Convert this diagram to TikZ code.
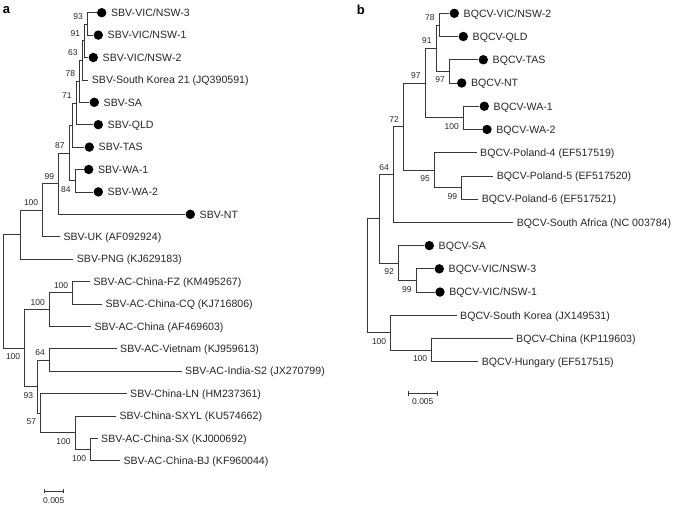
\documentclass[tikz,border=0pt]{standalone}
\usepackage{fontspec}
\setmainfont{Liberation Sans}
\usetikzlibrary{positioning,arrows.meta,calc}
\begin{document}
\begin{tikzpicture}[x=1pt,y=-1pt,
  br/.style={draw=black!78, line width=0.8pt},
  tipdot/.style={circle, fill=black, inner sep=0pt, minimum size=9.4pt},
  dotlabel/.style={anchor=west, inner sep=0pt, text height=7.6pt, text depth=0pt, font=\fontsize{10.6}{12}\selectfont, text=black!85},
  leaflabel/.style={anchor=west, inner ysep=0pt, inner xsep=3.3pt, text height=7.6pt, text depth=0pt, font=\fontsize{10.6}{12}\selectfont, text=black!85},
  bsbase/.style={anchor=east, inner sep=0pt, text height=6.1pt, text depth=0pt, font=\fontsize{8.5}{10}\selectfont, text=black!85},
  scalebar/.style={draw=black!78, line width=0.8pt, arrows={Bar[width=4.5pt,line width=0.8pt]-Bar[width=4.5pt,line width=0.8pt]}},
  scaletext/.style={inner sep=0pt, text height=6.1pt, text depth=0pt, font=\fontsize{8.5}{10}\selectfont, text=black!85},
  panel/.style={anchor=base west, inner sep=0pt, font=\fontsize{13}{15}\selectfont\bfseries}
]
\useasboundingbox (0,0) rectangle (675,506);

% ---------------- panel a ----------------
\node[panel] (pa) at (2.7,13.3) {a};

% dot leaves
\node[tipdot] (a-vic3) at (101.7,12.7) {};
\node[tipdot] (a-vic1) at (98.3,35.1) {};
\node[tipdot] (a-vic2) at (93.3,57.5) {};
\node[tipdot] (a-sa) at (94.3,102.3) {};
\node[tipdot] (a-qld) at (98.3,124.7) {};
\node[tipdot] (a-tas) at (89.3,147.1) {};
\node[tipdot] (a-wa1) at (88.7,169.5) {};
\node[tipdot] (a-wa2) at (98.3,191.9) {};
\node[tipdot] (a-nt) at (190.3,214.3) {};
\node[dotlabel, right=4.3pt of a-vic3] (ta-vic3) {SBV-VIC/NSW-3};
\node[dotlabel, right=4.3pt of a-vic1] (ta-vic1) {SBV-VIC/NSW-1};
\node[dotlabel, right=4.3pt of a-vic2] (ta-vic2) {SBV-VIC/NSW-2};
\node[dotlabel, right=4.3pt of a-sa] (ta-sa) {SBV-SA};
\node[dotlabel, right=4.3pt of a-qld] (ta-qld) {SBV-QLD};
\node[dotlabel, right=4.3pt of a-tas] (ta-tas) {SBV-TAS};
\node[dotlabel, right=4.3pt of a-wa1] (ta-wa1) {SBV-WA-1};
\node[dotlabel, right=4.3pt of a-wa2] (ta-wa2) {SBV-WA-2};
\node[dotlabel, right=4.3pt of a-nt] (ta-nt) {SBV-NT};

% text leaves
\node[leaflabel] (a-sk) at (88.4,79.9) {SBV-South Korea 21 (JQ390591)};
\node[leaflabel] (a-uk) at (60,236.7) {SBV-UK (AF092924)};
\node[leaflabel] (a-png) at (73.4,259.1) {SBV-PNG (KJ629183)};
\node[leaflabel] (a-fz) at (90,281.5) {SBV-AC-China-FZ (KM495267)};
\node[leaflabel] (a-cq) at (102,303.9) {SBV-AC-China-CQ (KJ716806)};
\node[leaflabel] (a-acc) at (91,326.3) {SBV-AC-China (AF469603)};
\node[leaflabel] (a-vn) at (116.7,348.7) {SBV-AC-Vietnam (KJ959613)};
\node[leaflabel] (a-in) at (181.7,371.1) {SBV-AC-India-S2 (JX270799)};
\node[leaflabel] (a-ln) at (126.7,393.5) {SBV-China-LN (HM237361)};
\node[leaflabel] (a-sxyl) at (116,415.9) {SBV-China-SXYL (KU574662)};
\node[leaflabel] (a-sx) at (97.7,438.3) {SBV-AC-China-SX (KJ000692)};
\node[leaflabel] (a-bj) at (120,460.7) {SBV-AC-China-BJ (KF960044)};

% internal nodes
\coordinate (n93) at (87.3,23.9);
\coordinate (n91) at (84.7,40.7);
\coordinate (n63) at (82,60.3);
\coordinate (n78) at (79.5,81.3);
\coordinate (n71) at (76,103.0);
\coordinate (nA) at (72,125.05);
\coordinate (n84) at (75,180.7);
\coordinate (n87) at (69,152.9);
\coordinate (n99) at (58.7,183.6);
\coordinate (n100a) at (42.7,210.15);
\coordinate (nD) at (20,234.6);
\coordinate (n100c) at (72.7,292.7);
\coordinate (n100b) at (49.3,309.5);
\coordinate (n64) at (49.3,359.9);
\coordinate (n100e) at (90.7,449.5);
\coordinate (n100d) at (75,432.7);
\coordinate (n57) at (40.7,413.1);
\coordinate (n93b) at (37.7,386.5);
\coordinate (n100f) at (24.7,348);
\coordinate (rootL) at (3.3,291.3);

% branches
\draw[br] (n93) |- (a-vic3);
\draw[br] (n93) |- (a-vic1);
\draw[br] (n91) |- (n93);
\draw[br] (n91) |- (a-vic2);
\draw[br] (n63) |- (n91);
\draw[br] (n63) |- (a-sk);
\draw[br] (n78) |- (n63);
\draw[br] (n78) |- (a-sa);
\draw[br] (n71) |- (n78);
\draw[br] (n71) |- (a-qld);
\draw[br] (nA) |- (n71);
\draw[br] (nA) |- (a-tas);
\draw[br] (n84) |- (a-wa1);
\draw[br] (n84) |- (a-wa2);
\draw[br] (n87) |- (nA);
\draw[br] (n87) |- (n84);
\draw[br] (n99) |- (n87);
\draw[br] (n99) |- (a-nt);
\draw[br] (n100a) |- (n99);
\draw[br] (n100a) |- (a-uk);
\draw[br] (nD) |- (n100a);
\draw[br] (nD) |- (a-png);
\draw[br] (n100c) |- (a-fz);
\draw[br] (n100c) |- (a-cq);
\draw[br] (n100b) |- (n100c);
\draw[br] (n100b) |- (a-acc);
\draw[br] (n64) |- (a-vn);
\draw[br] (n64) |- (a-in);
\draw[br] (n100e) |- (a-sx);
\draw[br] (n100e) |- (a-bj);
\draw[br] (n100d) |- (a-sxyl);
\draw[br] (n100d) |- (n100e);
\draw[br] (n57) |- (a-ln);
\draw[br] (n57) |- (n100d);
\draw[br] (n93b) |- (n64);
\draw[br] (n93b) |- (n57);
\draw[br] (n100f) |- (n100b);
\draw[br] (n100f) |- (n93b);
\draw[br] (rootL) |- (nD);
\draw[br] (rootL) |- (n100f);

% bootstrap values
\node[bsbase] (b93) at ($(n93)+(-4.3,-7.4)$) {93};
\node[bsbase] (b91) at ($(n91)+(-4.3,-7.4)$) {91};
\node[bsbase] (b63) at ($(n63)+(-4.3,-7.4)$) {63};
\node[bsbase] (b78) at ($(n78)+(-4.3,-7.4)$) {78};
\node[bsbase] (b71) at ($(n71)+(-4.3,-7.4)$) {71};
\node[bsbase] (b87) at ($(n87)+(-4.3,-7.4)$) {87};
\node[bsbase] (b99) at ($(n99)+(-4.3,-7.4)$) {99};
\node[bsbase] (b84) at ($(n84)+(-4.3,8.5)$) {84};
\node[bsbase] (b100a) at ($(n100a)+(-4.3,-7.4)$) {100};
\node[bsbase] (b100c) at ($(n100c)+(-4.3,-7.4)$) {100};
\node[bsbase] (b100b) at ($(n100b)+(-4.3,-7.4)$) {100};
\node[bsbase] (b64) at ($(n64)+(-4.3,-7.4)$) {64};
\node[bsbase] (b100e) at ($(n100e)+(-4.3,8.5)$) {100};
\node[bsbase] (b100d) at ($(n100d)+(-4.3,8.5)$) {100};
\node[bsbase] (b57) at ($(n57)+(-4.3,8.5)$) {57};
\node[bsbase] (b93b) at ($(n93b)+(-4.3,8.5)$) {93};
\node[bsbase] (b100f) at ($(n100f)+(-4.3,8.5)$) {100};

% scale bar a
\coordinate (sa1) at (44.3,491);
\coordinate (sa2) at (63.3,491);
\draw[scalebar] (sa1) -- (sa2);
\node[scaletext] (sat) at (53.8,500.3) {0.005};

% ---------------- panel b ----------------
\node[panel] (pb) at (356.7,14) {b};

\node[tipdot] (b-vic2) at (454.3,13.3) {};
\node[tipdot] (b-qld) at (463.3,36.53) {};
\node[tipdot] (b-tas) at (483.3,59.76) {};
\node[tipdot] (b-nt) at (461.7,82.99) {};
\node[tipdot] (b-wa1) at (484.3,106.22) {};
\node[tipdot] (b-wa2) at (487,129.45) {};
\node[tipdot] (b-sa) at (429.3,245.6) {};
\node[tipdot] (b-vic3) at (439.3,268.83) {};
\node[tipdot] (b-vic1) at (440,292.06) {};
\node[dotlabel, right=4.3pt of b-vic2] (tb-vic2) {BQCV-VIC/NSW-2};
\node[dotlabel, right=4.3pt of b-qld] (tb-qld) {BQCV-QLD};
\node[dotlabel, right=4.3pt of b-tas] (tb-tas) {BQCV-TAS};
\node[dotlabel, right=4.3pt of b-nt] (tb-nt) {BQCV-NT};
\node[dotlabel, right=4.3pt of b-wa1] (tb-wa1) {BQCV-WA-1};
\node[dotlabel, right=4.3pt of b-wa2] (tb-wa2) {BQCV-WA-2};
\node[dotlabel, right=4.3pt of b-sa] (tb-sa) {BQCV-SA};
\node[dotlabel, right=4.3pt of b-vic3] (tb-vic3) {BQCV-VIC/NSW-3};
\node[dotlabel, right=4.3pt of b-vic1] (tb-vic1) {BQCV-VIC/NSW-1};

\node[leaflabel] (b-pl4) at (476.7,152.68) {BQCV-Poland-4 (EF517519)};
\node[leaflabel] (b-pl5) at (493.3,175.91) {BQCV-Poland-5 (EF517520)};
\node[leaflabel] (b-pl6) at (478.3,199.14) {BQCV-Poland-6 (EF517521)};
\node[leaflabel] (b-saf) at (513.3,222.37) {BQCV-South Africa (NC 003784)};
\node[leaflabel] (b-sk) at (456.7,315.29) {BQCV-South Korea (JX149531)};
\node[leaflabel] (b-cn) at (512.7,338.52) {BQCV-China (KP119603)};
\node[leaflabel] (b-hu) at (478.3,361.75) {BQCV-Hungary (EF517515)};

\coordinate (r78) at (439,24.92);
\coordinate (r97b) at (449.3,71.38);
\coordinate (r91) at (436,48.15);
\coordinate (r100a) at (463.3,117.84);
\coordinate (r97) at (425,83.0);
\coordinate (r99a) at (461.7,187.53);
\coordinate (r95) at (434.3,170.1);
\coordinate (r72) at (403.3,126.55);
\coordinate (r64) at (393.3,174.46);
\coordinate (r99b) at (416,280.45);
\coordinate (r92) at (398.3,263.0);
\coordinate (rF) at (379.3,218.73);
\coordinate (r100c) at (431.7,350.1);
\coordinate (r100b) at (390.7,332.7);
\coordinate (rootR) at (367,275.7);

\draw[br] (r78) |- (b-vic2);
\draw[br] (r78) |- (b-qld);
\draw[br] (r97b) |- (b-tas);
\draw[br] (r97b) |- (b-nt);
\draw[br] (r91) |- (r78);
\draw[br] (r91) |- (r97b);
\draw[br] (r100a) |- (b-wa1);
\draw[br] (r100a) |- (b-wa2);
\draw[br] (r97) |- (r91);
\draw[br] (r97) |- (r100a);
\draw[br] (r99a) |- (b-pl5);
\draw[br] (r99a) |- (b-pl6);
\draw[br] (r95) |- (b-pl4);
\draw[br] (r95) |- (r99a);
\draw[br] (r72) |- (r97);
\draw[br] (r72) |- (r95);
\draw[br] (r64) |- (r72);
\draw[br] (r64) |- (b-saf);
\draw[br] (r99b) |- (b-vic3);
\draw[br] (r99b) |- (b-vic1);
\draw[br] (r92) |- (b-sa);
\draw[br] (r92) |- (r99b);
\draw[br] (rF) |- (r64);
\draw[br] (rF) |- (r92);
\draw[br] (r100c) |- (b-cn);
\draw[br] (r100c) |- (b-hu);
\draw[br] (r100b) |- (b-sk);
\draw[br] (r100b) |- (r100c);
\draw[br] (rootR) |- (rF);
\draw[br] (rootR) |- (r100b);

\node[bsbase] (c78) at ($(r78)+(-4.3,-7.4)$) {78};
\node[bsbase] (c97b) at ($(r97b)+(-4.3,8.5)$) {97};
\node[bsbase] (c91) at ($(r91)+(-4.3,-7.4)$) {91};
\node[bsbase] (c100a) at ($(r100a)+(-4.3,8.5)$) {100};
\node[bsbase] (c97) at ($(r97)+(-4.3,-7.4)$) {97};
\node[bsbase] (c99a) at ($(r99a)+(-4.3,8.5)$) {99};
\node[bsbase] (c95) at ($(r95)+(-4.3,8.5)$) {95};
\node[bsbase] (c72) at ($(r72)+(-4.3,-7.4)$) {72};
\node[bsbase] (c64) at ($(r64)+(-4.3,-7.4)$) {64};
\node[bsbase] (c99b) at ($(r99b)+(-4.3,8.5)$) {99};
\node[bsbase] (c92) at ($(r92)+(-4.3,8.5)$) {92};
\node[bsbase] (c100c) at ($(r100c)+(-4.3,8.5)$) {100};
\node[bsbase] (c100b) at ($(r100b)+(-4.3,8.5)$) {100};

\coordinate (sb1) at (408.3,393.3);
\coordinate (sb2) at (437.3,393.3);
\draw[scalebar] (sb1) -- (sb2);
\node[scaletext] (sbt) at (422.8,401.7) {0.005};
\end{tikzpicture}
\end{document}
